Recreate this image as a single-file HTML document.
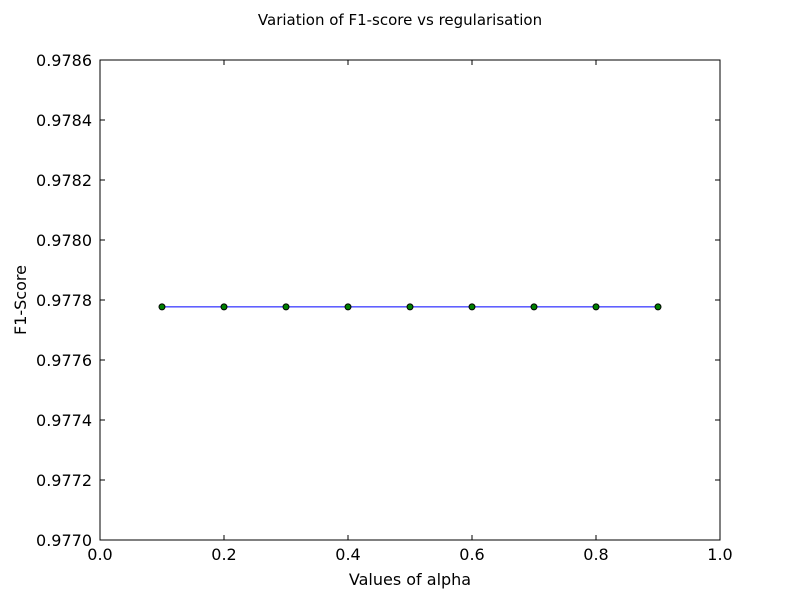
<!DOCTYPE html>
<html><head><meta charset="utf-8">
<style>
body{margin:0;background:#fff;}
svg text{font-family:"DejaVu Sans","Liberation Sans",sans-serif;fill:#000;}
</style></head>
<body>
<svg id="chart" width="800" height="600" viewBox="0 0 800 600" xmlns="http://www.w3.org/2000/svg">
<rect width="800" height="600" fill="#fff"/>
<text x="400" y="25" font-size="15" text-anchor="middle">Variation of F1-score vs regularisation</text>
<g id="axes"></g>
<text x="410" y="585" font-size="16" text-anchor="middle">Values of alpha</text>
<text x="26" y="300" font-size="16" text-anchor="middle" transform="rotate(-90 26 300)">F1-Score</text>
</svg>
<script>
const alphas = [0.1,0.2,0.3,0.4,0.5,0.6,0.7,0.8,0.9];
const f1Scores = [0.977777,0.977777,0.977777,0.977777,0.977777,0.977777,0.977777,0.977777,0.977777];
const xTicks = [0.0,0.2,0.4,0.6,0.8,1.0];
const yTicks = [0.9770,0.9772,0.9774,0.9776,0.9778,0.9780,0.9782,0.9784,0.9786];

const L=100,R=720,T=60,B=540;
const xMin=0,xMax=1,yMin=0.9770,yMax=0.9786;
const xs=v=>L+(v-xMin)/(xMax-xMin)*(R-L);
const ys=v=>B-(v-yMin)/(yMax-yMin)*(B-T);
const NS="http://www.w3.org/2000/svg";
const g=document.getElementById('axes');
function mk(tag,attrs){const e=document.createElementNS(NS,tag);for(const k in attrs)e.setAttribute(k,attrs[k]);g.appendChild(e);return e;}

xTicks.forEach(v=>{
  const x=xs(v);
  const t1=mk('line',{x1:x,x2:x,y1:B,y2:B-5,stroke:'#000'});
  
  
  const t2=mk('line',{x1:x,x2:x,y1:T,y2:T+5,stroke:'#000'});
  
  
  const lb=mk('text',{x:x,y:B+20,'font-size':16,'text-anchor':'middle'});
  lb.textContent=v.toFixed(1);
  
  
});
yTicks.forEach(v=>{
  const y=ys(v);
  const t1=mk('line',{x1:L,x2:L+5,y1:y,y2:y,stroke:'#000'});
  
  
  const t2=mk('line',{x1:R,x2:R-5,y1:y,y2:y,stroke:'#000'});
  
  
  const lb=mk('text',{x:L-8,y:y+6,'font-size':16,'text-anchor':'end'});
  lb.textContent=v.toFixed(4);
  
  
});

const line=mk('polyline',{points:alphas.map((a,i)=>xs(a)+','+ys(f1Scores[i])).join(' '),fill:'none',stroke:'#0000ff','stroke-width':1});


alphas.forEach((a,i)=>{
  const c=mk('circle',{cx:xs(a),cy:ys(f1Scores[i]),r:3,fill:'#008000',stroke:'#000','stroke-width':1});
  
  
});
const frame=mk('rect',{x:L,y:T,width:R-L,height:B-T,fill:'none',stroke:'#000','stroke-width':1});


</script>
</body></html>
